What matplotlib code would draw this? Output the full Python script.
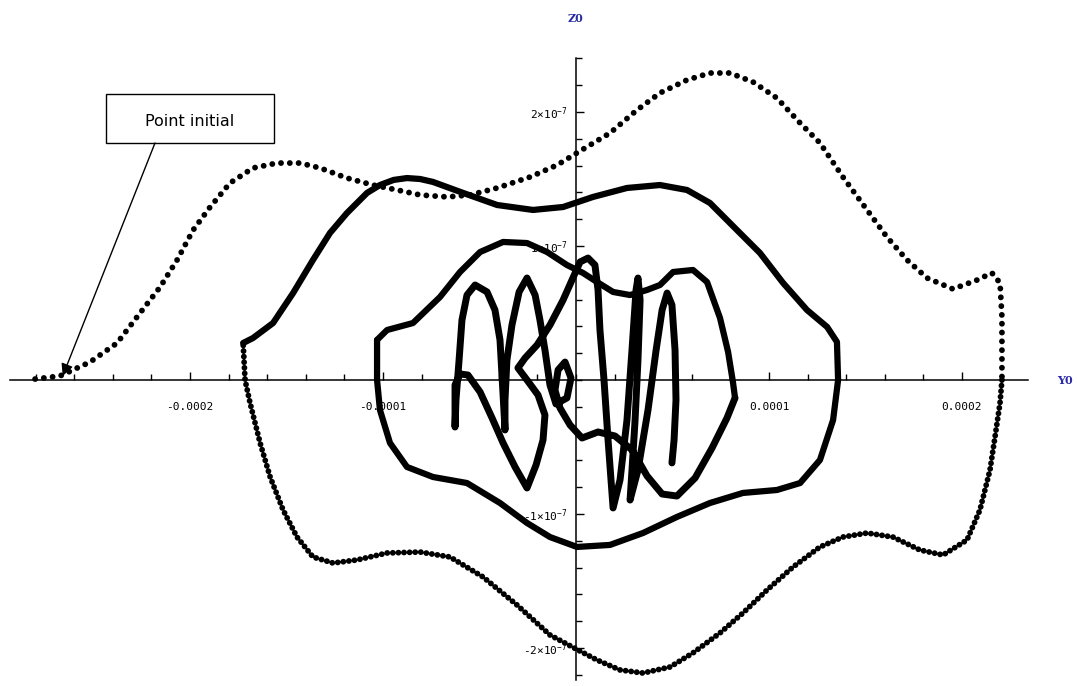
import numpy as np
import matplotlib
matplotlib.use("Agg")
import matplotlib.pyplot as plt
from matplotlib.patches import Rectangle
from matplotlib.ticker import MultipleLocator, FixedLocator

plt.rcParams['mathtext.default'] = 'regular'

# ----------------------------
# trajectory Y0 (x 1e-4), Z0 (x 1e-7)
# ----------------------------
# first turn (fast, points far apart)
y_turn1a = [-2.803, -2.674, -2.518, -2.378, -2.259, -2.155, -2.067, -1.984, -1.896, -1.793,
            -1.674, -1.549, -1.430, -1.326, -1.187, -1.052, -0.927, -0.808, -0.668, -0.549,
            -0.409, -0.238, -0.098, 0.021, 0.176, 0.316, 0.435, 0.575, 0.694, 0.798,
            0.917, 1.041, 1.161, 1.264, 1.383, 1.508, 1.611, 1.715, 1.819, 1.953,
            2.078, 2.155, 2.197, 2.207, 2.207, 2.207]
z_turn1a = [0.007, 0.030, 0.134, 0.276, 0.500, 0.694, 0.896, 1.119, 1.291, 1.470,
            1.582, 1.619, 1.619, 1.582, 1.507, 1.455, 1.418, 1.381, 1.366, 1.381,
            1.433, 1.515, 1.604, 1.709, 1.843, 2.015, 2.142, 2.239, 2.291, 2.291,
            2.224, 2.104, 1.918, 1.769, 1.515, 1.269, 1.067, 0.896, 0.761, 0.679,
            0.746, 0.799, 0.724, 0.470, 0.224, 0.0]

# first turn, lower half
y_turn1b = [2.207, 2.197, 2.171, 2.145, 2.093, 2.026, 1.902, 1.782, 1.642, 1.508,
            1.383, 1.264, 1.124, 0.990, 0.865, 0.746, 0.606, 0.487, 0.347, 0.228,
            0.109, 0.010, -0.135, -0.306, -0.482, -0.653, -0.808, -0.979, -1.135, -1.259,
            -1.363, -1.446, -1.518, -1.585, -1.637, -1.689, -1.715, -1.725]
z_turn1b = [0.0, -0.172, -0.425, -0.672, -0.970, -1.194, -1.306, -1.269, -1.172, -1.142,
            -1.172, -1.246, -1.396, -1.567, -1.739, -1.888, -2.037, -2.142, -2.187, -2.164,
            -2.090, -2.015, -1.903, -1.679, -1.470, -1.321, -1.284, -1.291, -1.343, -1.366,
            -1.321, -1.172, -0.970, -0.724, -0.470, -0.172, 0.0, 0.276]

# second turn
y_turn2 = [-1.725, -1.674, -1.570, -1.466, -1.363, -1.275, -1.187, -1.083, -1.016, -0.945,
           -0.876, -0.808, -0.741, -0.585, -0.409, -0.223, -0.067, 0.088, 0.264, 0.435,
           0.575, 0.694, 0.834, 0.953, 1.073, 1.197, 1.301, 1.352, 1.358, 1.332,
           1.264, 1.161, 1.041, 0.865, 0.694, 0.523, 0.347, 0.176, 0.005, -0.135,
           -0.254, -0.394, -0.565, -0.741, -0.876, -0.964, -1.016, -1.031, -1.031]
z_turn2 = [0.276, 0.313, 0.425, 0.649, 0.896, 1.097, 1.246, 1.396, 1.455, 1.493,
           1.507, 1.500, 1.478, 1.396, 1.306, 1.269, 1.291, 1.366, 1.433, 1.455,
           1.418, 1.321, 1.119, 0.948, 0.724, 0.522, 0.396, 0.284, 0.0, -0.299,
           -0.597, -0.769, -0.821, -0.843, -0.918, -1.022, -1.142, -1.231, -1.246, -1.172,
           -1.067, -0.918, -0.769, -0.724, -0.649, -0.470, -0.224, 0.0, 0.299]

# third turn
y_turn3 = [-1.031, -0.979, -0.845, -0.705, -0.601, -0.497, -0.378, -0.254, -0.150, -0.047,
           0.036, 0.109, 0.192, 0.280, 0.368, 0.435, 0.503, 0.606, 0.679, 0.746,
           0.788, 0.813, 0.824]
z_turn3 = [0.299, 0.373, 0.425, 0.619, 0.806, 0.955, 1.030, 1.022, 0.955, 0.858,
           0.799, 0.731, 0.657, 0.634, 0.672, 0.709, 0.806, 0.821, 0.731, 0.463,
           0.209, -0.015, -0.134]

# central oscillations
y_core = [0.824, 0.782, 0.705, 0.617, 0.523, 0.446, 0.368, 0.290, 0.202, 0.114,
          0.031, -0.031, -0.083, -0.109, -0.093, -0.057, -0.026, -0.047, -0.104, -0.135,
          -0.161, -0.187, -0.212, -0.254, -0.295, -0.332, -0.358, -0.368, -0.368, -0.378,
          -0.394, -0.420, -0.461, -0.523, -0.565, -0.591, -0.606, -0.622, -0.627, -0.627,
          -0.601, -0.560, -0.497, -0.435, -0.378, -0.316, -0.254, -0.207, -0.171, -0.161,
          -0.197, -0.254, -0.301, -0.264, -0.202, -0.135, -0.067, -0.021, 0.021, 0.062,
          0.098, 0.114, 0.124, 0.145, 0.166, 0.192, 0.228, 0.264, 0.290, 0.311,
          0.321, 0.332, 0.321, 0.306, 0.290, 0.280, 0.321, 0.373, 0.415, 0.446,
          0.472, 0.497, 0.513, 0.518, 0.508, 0.497]
z_core = [-0.134, -0.284, -0.507, -0.731, -0.866, -0.851, -0.716, -0.522, -0.418, -0.388,
          -0.433, -0.336, -0.209, -0.075, 0.075, 0.134, 0.015, -0.134, -0.179, -0.037,
          0.224, 0.448, 0.634, 0.761, 0.657, 0.410, 0.149, -0.149, -0.373, -0.112,
          0.299, 0.522, 0.657, 0.709, 0.634, 0.448, 0.149, -0.149, -0.351, -0.037,
          0.045, 0.037, -0.090, -0.284, -0.470, -0.649, -0.806, -0.634, -0.448, -0.261,
          -0.112, 0.0, 0.090, 0.164, 0.261, 0.410, 0.597, 0.746, 0.881, 0.910,
          0.858, 0.672, 0.373, 0.0, -0.448, -0.955, -0.746, -0.299, 0.224, 0.672,
          0.761, 0.597, 0.149, -0.299, -0.672, -0.896, -0.672, -0.224, 0.224, 0.522,
          0.649, 0.560, 0.224, -0.149, -0.448, -0.619]

y_ticks = [-2, -1, 1, 2]
z_ticks = [-2, -1, 1, 2]
y_ticklabels = ["-0.0002", "-0.0001", "0.0001", "0.0002"]
z_ticklabels = ["-2\u00d710$^{-7}$", "-1\u00d710$^{-7}$", "1\u00d710$^{-7}$", "2\u00d710$^{-7}$"]

SY = 1e-4
SZ = 1e-7


def arr(v, s):
    return np.array(v) * s


fig = plt.figure(figsize=(10.77, 6.86), dpi=100)
ax = fig.add_axes([10 / 1077, 6 / 686, 1018 / 1077, 622 / 686])

# ----------------------------
# trajectory
# ----------------------------
ax.plot(arr(y_turn1a, SY), arr(z_turn1a, SZ), color="black", lw=4.2,
        ls=(0, (0.01, 1.5)), dash_capstyle="round", zorder=3)
ax.plot(arr(y_turn1b, SY), arr(z_turn1b, SZ), color="black", lw=4.2,
        ls=(0, (0.01, 0.95)), dash_capstyle="round", zorder=3)
for yy, zz in [(y_turn2, z_turn2), (y_turn3, z_turn3)]:
    ax.plot(arr(yy, SY), arr(zz, SZ), color="black", lw=4.5,
            solid_capstyle="round", solid_joinstyle="round", zorder=3)
ax.plot(arr(y_core, SY), arr(z_core, SZ), color="black", lw=5,
        solid_capstyle="round", solid_joinstyle="round", zorder=3)

# ----------------------------
# axes through the origin
# ----------------------------
ax.set_xlim(-2.933e-4, 2.342e-4)
ax.set_ylim(-2.239e-7, 2.403e-7)
ax.spines["left"].set_position(("data", 0))
ax.spines["bottom"].set_position(("data", 0))
ax.spines["right"].set_visible(False)
ax.spines["top"].set_visible(False)
for s in ("left", "bottom"):
    ax.spines[s].set_linewidth(1.1)
ax.patch.set_alpha(0)

ax.xaxis.set_major_locator(FixedLocator(arr(y_ticks, SY)))
ax.yaxis.set_major_locator(FixedLocator(arr(z_ticks, SZ)))
ax.xaxis.set_minor_locator(MultipleLocator(0.2e-4))
ax.yaxis.set_minor_locator(MultipleLocator(0.2e-7))
ax.set_xticklabels(y_ticklabels, family="DejaVu Sans Mono", fontsize=8)
ax.set_yticklabels(z_ticklabels, family="DejaVu Sans Mono", fontsize=8)
ax.tick_params(axis="x", which="both", direction="in", width=1, pad=16)
ax.tick_params(axis="y", which="both", direction="in", width=1, pad=6)
ax.tick_params(which="major", length=6)
ax.tick_params(which="minor", length=4)

# axis names
fig.text(575 / 1077, 1 - 18 / 686, "Z0", color="#2a2aa8", fontsize=8,
         family="DejaVu Serif", weight="bold", ha="center", va="center")
fig.text(1065 / 1077, 1 - 380 / 686, "Y0", color="#2a2aa8", fontsize=8,
         family="DejaVu Serif", weight="bold", ha="center", va="center")

# ----------------------------
# annotation
# ----------------------------
fig.patches.append(Rectangle((106 / 1077, 1 - 143 / 686), 168 / 1077, 49 / 686,
                             transform=fig.transFigure, fill=False, ec="black", lw=1))
fig.text(190 / 1077, 1 - 121 / 686, "Point initial", fontsize=11.5,
         family="DejaVu Sans", ha="center", va="center")
ax.annotate("", xy=(-2.66e-4, 0.03e-7), xycoords="data",
            xytext=(155 / 1077, 1 - 143 / 686), textcoords="figure fraction",
            arrowprops=dict(arrowstyle="-|>", color="black", lw=1,
                            mutation_scale=18, shrinkA=0, shrinkB=0))

fig.savefig("out.png", dpi=100)
